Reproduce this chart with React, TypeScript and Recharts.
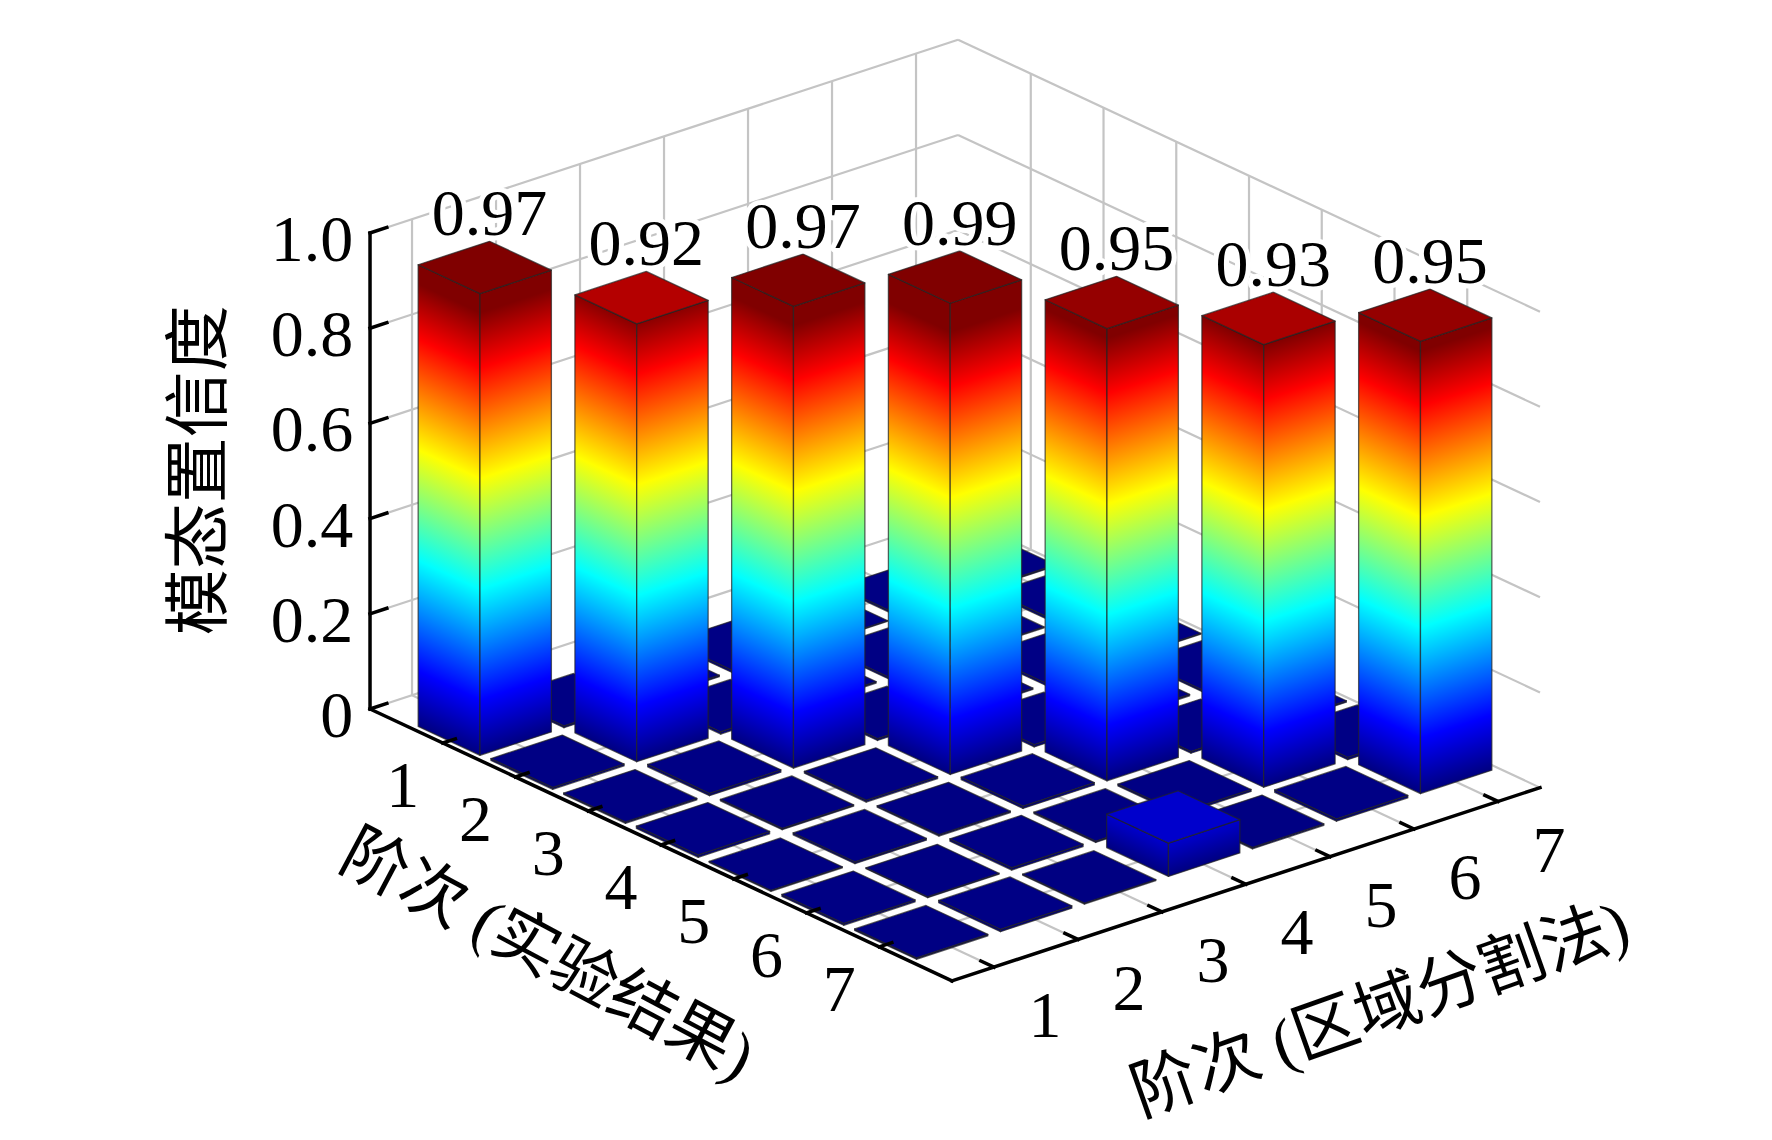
import React from 'react';
import {
  ComposedChart,
  XAxis,
  YAxis,
  ReferenceArea,
  ReferenceLine,
  ReferenceDot,
  Scatter,
} from 'recharts';

// mode orders on the two floor axes
const ROW_ORDERS = [1, 2, 3, 4, 5, 6, 7]; // 实验结果
const COL_ORDERS = [1, 2, 3, 4, 5, 6, 7]; // 区域分割法

// MAC matrix, one array per experimental mode
const MAC_ROW_1 = [0.97, 0.004, 0.003, 0.005, 0.002, 0.004, 0.003];
const MAC_ROW_2 = [0.004, 0.92, 0.005, 0.003, 0.004, 0.002, 0.005];
const MAC_ROW_3 = [0.003, 0.005, 0.97, 0.004, 0.003, 0.005, 0.002];
const MAC_ROW_4 = [0.005, 0.003, 0.004, 0.99, 0.005, 0.003, 0.004];
const MAC_ROW_5 = [0.002, 0.004, 0.003, 0.005, 0.95, 0.004, 0.003];
const MAC_ROW_6 = [0.004, 0.002, 0.005, 0.003, 0.004, 0.93, 0.005];
const MAC_ROW_7 = [0.003, 0.005, 0.002, 0.07, 0.003, 0.005, 0.95];
const MAC_ROWS = [MAC_ROW_1, MAC_ROW_2, MAC_ROW_3, MAC_ROW_4, MAC_ROW_5, MAC_ROW_6, MAC_ROW_7];

const Z_TICKS = [0, 0.2, 0.4, 0.6, 0.8, 1.0];
const Z_TICK_LABELS = ['0', '0.2', '0.4', '0.6', '0.8', '1.0'];

const Z_TITLE = '模态置信度';
const ROW_TITLE = '阶次 (实验结果)';
const COL_TITLE = '阶次 (区域分割法)';

// ---- view setup ----
const WIDTH = 1772;
const HEIGHT = 1140;
const ROW_LIM = [0, 8];
const COL_LIM = [0.5, 7.5];
const Z_TOP = 1;
const BAR_WIDTH = 0.85;
const C_MAX = 0.93; // colour axis upper limit for the side faces
const TOP_C_MAX = 0.97; // lit top faces come out a little lighter

// oblique view: one step along a model axis, expressed in the chart's x/y data space
const UX = 0.866;
const UY = -0.0714; // row step
const VX = 1;
const VY = 0.058; // column step
const X_DOMAIN: [number, number] = [-3.905, 17.19];
const Y_DOMAIN: [number, number] = [-0.8765, 1.5185];

const FONT = "'Liberation Serif', 'Noto Sans CJK SC', serif";
const NUM_SIZE = 66;

type P = { x: number; y: number };
const proj = (r: number, c: number, z: number): P => ({
  x: r * UX + c * VX,
  y: z + r * UY + c * VY,
});

const clamp01 = (t: number) => Math.max(0, Math.min(1, t));
function jet(t: number) {
  const u = clamp01(t);
  const r = clamp01(Math.min(4 * u - 1.5, -4 * u + 4.5));
  const g = clamp01(Math.min(4 * u - 0.5, -4 * u + 3.5));
  const b = clamp01(Math.min(4 * u + 0.5, -4 * u + 2.5));
  return `rgb(${Math.round(r * 255)},${Math.round(g * 255)},${Math.round(b * 255)})`;
}

function jetStops(v: number) {
  const marks = [0.125, 0.375, 0.625, 0.875, 1]
    .map((t) => t * C_MAX)
    .filter((z) => z > 0 && z < v);
  return [0, ...marks, v].map((z) => ({ offset: z / v, color: jet(z / C_MAX) }));
}

// ---- grid lines on the floor and the two back walls ----
type Seg = [number[], number[]];
const gridSegments: Seg[] = [];
Z_TICKS.forEach((z) => {
  gridSegments.push([[ROW_LIM[0], COL_LIM[0], z], [ROW_LIM[0], COL_LIM[1], z]]);
  gridSegments.push([[ROW_LIM[0], COL_LIM[1], z], [ROW_LIM[1], COL_LIM[1], z]]);
});
COL_ORDERS.forEach((c) => {
  gridSegments.push([[ROW_LIM[0], c, 0], [ROW_LIM[0], c, Z_TOP]]);
  gridSegments.push([[ROW_LIM[0], c, 0], [ROW_LIM[1], c, 0]]);
});
ROW_ORDERS.forEach((r) => {
  gridSegments.push([[r, COL_LIM[1], 0], [r, COL_LIM[1], Z_TOP]]);
  gridSegments.push([[r, COL_LIM[0], 0], [r, COL_LIM[1], 0]]);
});

// ---- black axes with their ticks ----
const axisSegments: Seg[] = [
  [[ROW_LIM[0], COL_LIM[0], 0], [ROW_LIM[0], COL_LIM[0], Z_TOP]],
  [[ROW_LIM[0], COL_LIM[0], 0], [ROW_LIM[1], COL_LIM[0], 0]],
  [[ROW_LIM[1], COL_LIM[0], 0], [ROW_LIM[1], COL_LIM[1], 0]],
];
Z_TICKS.forEach((z) => axisSegments.push([[ROW_LIM[0], COL_LIM[0], z], [ROW_LIM[0], COL_LIM[0] + 0.2, z]]));
ROW_ORDERS.forEach((r) => axisSegments.push([[r, COL_LIM[0], 0], [r, COL_LIM[0] + 0.15, 0]]));
COL_ORDERS.forEach((c) => axisSegments.push([[ROW_LIM[1], c, 0], [ROW_LIM[1] - 0.18, c, 0]]));

// ---- cells, back to front ----
type Cell = { r: number; c: number; v: number };
const cells: Cell[] = MAC_ROWS.flatMap((row, i) =>
  row.map((v, j) => ({ r: ROW_ORDERS[i], c: COL_ORDERS[j], v }))
).sort((a, b) => a.r - a.c - (b.r - b.c));

// ---- text points ----
const zTickPoints = Z_TICKS.map((z, i) => ({ ...proj(ROW_LIM[0], COL_LIM[0] - 0.2, z), label: Z_TICK_LABELS[i] }));
const rowTickPoints = ROW_ORDERS.map((r) => ({ ...proj(r, COL_LIM[0] - 0.476, -0.059), label: String(r) }));
const colTickPoints = COL_ORDERS.map((c) => ({ ...proj(ROW_LIM[1] + 0.7, c, -0.05), label: String(c) }));
const valuePoints = ROW_ORDERS.map((k, i) => {
  const v = MAC_ROWS[i][i];
  const h = BAR_WIDTH / 2;
  return { ...proj(k - h, k + h, v + 0.06), label: v.toFixed(2) };
});

const zTitleAt = proj(0, -1.54, 0.62);
const rowTitleAt = proj(4, -0.845, -0.151);
const colTitleAt = proj(9.84, 4, -0.129);

type Bounds = { x1: number; x2: number; y1: number; y2: number };

function Box3D({ rect, bounds, cell }: { rect: any; bounds: Bounds; cell: Cell }) {
  const { r, c, v } = cell;
  const h = BAR_WIDTH / 2;
  const toPx = (p: P): [number, number] => [
    rect.x + ((p.x - bounds.x1) / (bounds.x2 - bounds.x1)) * rect.width,
    rect.y + ((bounds.y2 - p.y) / (bounds.y2 - bounds.y1)) * rect.height,
  ];
  const a0 = toPx(proj(r - h, c - h, 0));
  const b0 = toPx(proj(r + h, c - h, 0));
  const c0 = toPx(proj(r + h, c + h, 0));
  const a1 = toPx(proj(r - h, c - h, v));
  const b1 = toPx(proj(r + h, c - h, v));
  const c1 = toPx(proj(r + h, c + h, v));
  const d1 = toPx(proj(r - h, c + h, v));
  const pts = (list: [number, number][]) => list.map((q) => `${q[0]},${q[1]}`).join(' ');

  const id = `mac-${r}-${c}`;
  const stops = jetStops(v);
  const grad = (name: string, p0: [number, number], q0: [number, number], p1: [number, number]) => {
    const dx = q0[0] - p0[0];
    const dy = q0[1] - p0[1];
    const len = Math.hypot(dx, dy);
    const hp = p0[1] - p1[1];
    const d = (hp * dx) / len;
    return (
      <linearGradient
        id={`${id}-${name}`}
        gradientUnits="userSpaceOnUse"
        x1={p0[0]}
        y1={p0[1]}
        x2={p0[0] + (dy / len) * d}
        y2={p0[1] + (-dx / len) * d}
      >
        {stops.map((s, i) => (
          <stop key={i} offset={s.offset} stopColor={s.color} />
        ))}
      </linearGradient>
    );
  };
  const tall = b0[1] - b1[1] > 1;
  const topFill = v > 0.5 ? jet(v / TOP_C_MAX) : jet(v / C_MAX);
  const edge = { stroke: '#222', strokeOpacity: 0.7, strokeWidth: 1.3, strokeLinejoin: 'round' as const };
  return (
    <g>
      {tall && (
        <defs>
          {grad('l', a0, b0, a1)}
          {grad('r', b0, c0, b1)}
        </defs>
      )}
      <polygon points={pts([a0, b0, b1, a1])} fill={tall ? `url(#${id}-l)` : jet(v / C_MAX)} {...edge} />
      <polygon points={pts([b0, c0, c1, b1])} fill={tall ? `url(#${id}-r)` : jet(v / C_MAX)} {...edge} />
      <polygon points={pts([a1, b1, c1, d1])} fill={topFill} {...edge} />
    </g>
  );
}

function renderCell(cell: Cell) {
  const h = BAR_WIDTH / 2;
  const bounds: Bounds = {
    x1: proj(cell.r - h, cell.c - h, 0).x,
    x2: proj(cell.r + h, cell.c + h, 0).x,
    y1: proj(cell.r + h, cell.c - h, 0).y,
    y2: proj(cell.r - h, cell.c + h, cell.v).y,
  };
  return (
    <ReferenceArea
      key={`cell-${cell.r}-${cell.c}`}
      x1={bounds.x1}
      x2={bounds.x2}
      y1={bounds.y1}
      y2={bounds.y2}
      zIndex={100}
      shape={(p: any) => <Box3D rect={p} bounds={bounds} cell={cell} />}
    />
  );
}

const textStyle = { fontFamily: FONT, fontSize: NUM_SIZE, fill: '#000' };

export default function App() {
  return (
    <div style={{ position: 'absolute', left: 0, top: 0, width: WIDTH, height: HEIGHT, background: '#fff' }}>
      <ComposedChart width={WIDTH} height={HEIGHT} margin={{ top: 0, right: 0, bottom: 0, left: 0 }}>
        <XAxis type="number" dataKey="x" domain={X_DOMAIN} allowDataOverflow hide />
        <YAxis type="number" dataKey="y" domain={Y_DOMAIN} allowDataOverflow hide />

        {gridSegments.map((s, i) => (
          <ReferenceLine
            key={`grid-${i}`}
            segment={[proj(s[0][0], s[0][1], s[0][2]), proj(s[1][0], s[1][1], s[1][2])]}
            stroke="#c4c4c4"
            strokeWidth={2.2}
            zIndex={-100}
          />
        ))}

        {cells.map(renderCell)}

        {axisSegments.map((s, i) => (
          <ReferenceLine
            key={`axis-${i}`}
            segment={[proj(s[0][0], s[0][1], s[0][2]), proj(s[1][0], s[1][1], s[1][2])]}
            stroke="#000"
            strokeWidth={3.5}
            strokeLinecap="square"
            zIndex={500}
          />
        ))}

        <Scatter
          data={zTickPoints}
          isAnimationActive={false}
          shape={(p: any) => (
            <text x={p.cx} y={p.cy} textAnchor="end" dominantBaseline="central" {...textStyle}>
              {p.payload.label}
            </text>
          )}
        />
        <Scatter
          data={rowTickPoints}
          isAnimationActive={false}
          shape={(p: any) => (
            <text x={p.cx} y={p.cy} textAnchor="middle" dominantBaseline="central" {...textStyle}>
              {p.payload.label}
            </text>
          )}
        />
        <Scatter
          data={colTickPoints}
          isAnimationActive={false}
          shape={(p: any) => (
            <text x={p.cx} y={p.cy} textAnchor="middle" dominantBaseline="central" {...textStyle}>
              {p.payload.label}
            </text>
          )}
        />
        <Scatter
          data={valuePoints}
          isAnimationActive={false}
          shape={(p: any) => (
            <text
              x={p.cx}
              y={p.cy}
              textAnchor="middle"
              dominantBaseline="central"
              stroke="#fff"
              strokeWidth={10}
              strokeLinejoin="round"
              paintOrder="stroke"
              {...textStyle}
            >
              {p.payload.label}
            </text>
          )}
        />

        <ReferenceDot
          x={zTitleAt.x}
          y={zTitleAt.y}
          zIndex={600}
          shape={(p: any) => (
            <text
              x={p.cx}
              y={p.cy}
              transform={`rotate(-90 ${p.cx} ${p.cy})`}
              textAnchor="middle"
              dominantBaseline="central"
              {...textStyle}
            >
              {Z_TITLE}
            </text>
          )}
        />
        <ReferenceDot
          x={rowTitleAt.x}
          y={rowTitleAt.y}
          zIndex={600}
          shape={(p: any) => (
            <text
              x={p.cx}
              y={p.cy}
              transform={`rotate(28 ${p.cx} ${p.cy})`}
              textAnchor="middle"
              dominantBaseline="central"
              {...textStyle}
            >
              {ROW_TITLE}
            </text>
          )}
        />
        <ReferenceDot
          x={colTitleAt.x}
          y={colTitleAt.y}
          zIndex={600}
          shape={(p: any) => (
            <text
              x={p.cx}
              y={p.cy}
              transform={`rotate(-19.5 ${p.cx} ${p.cy})`}
              textAnchor="middle"
              dominantBaseline="central"
              {...textStyle}
            >
              {COL_TITLE}
            </text>
          )}
        />
      </ComposedChart>
    </div>
  );
}
